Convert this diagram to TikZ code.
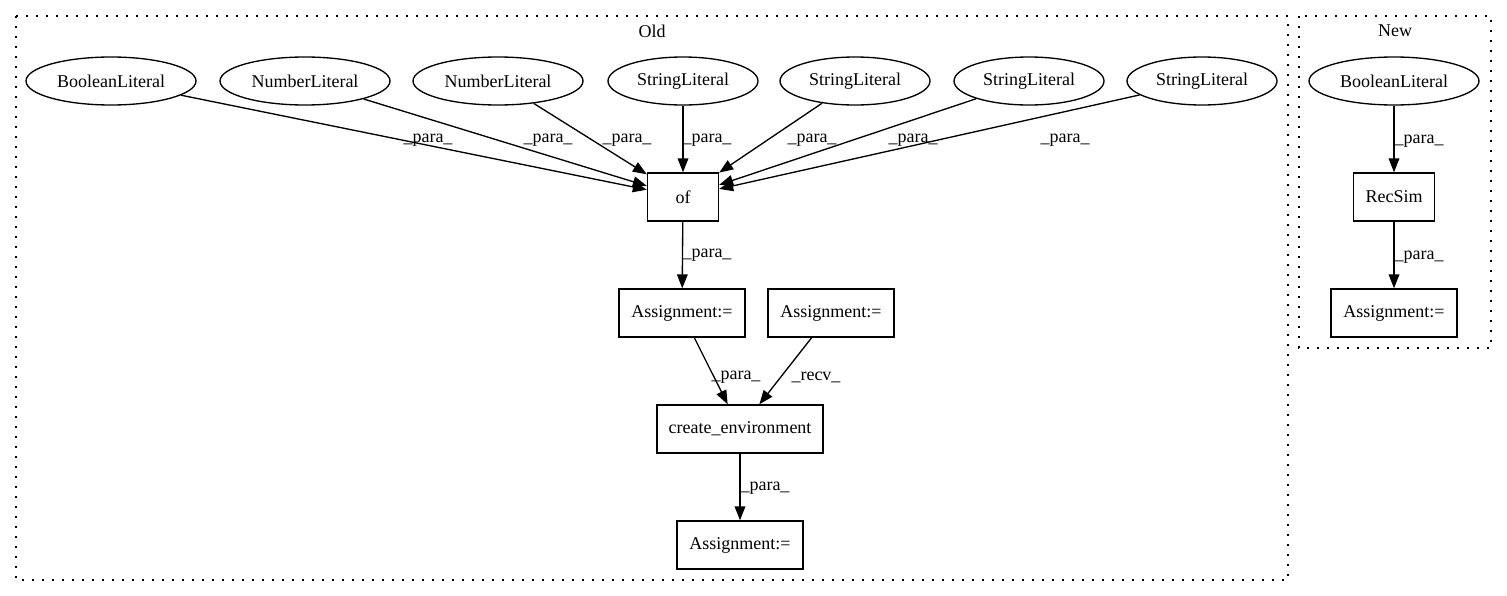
\documentclass[tikz,border=0pt]{standalone}
\usepackage{fontspec}
\setmainfont{Liberation Serif}
\usetikzlibrary{arrows.meta,shapes.geometric}
\begin{document}
\begin{tikzpicture}[x=0.75pt,y=-0.75pt,
  every node/.style={font=\fontsize{13.5pt}{16pt}\selectfont, inner sep=0pt},
  lit/.style={draw, ellipse, line width=1pt, minimum height=36pt},
  boolw/.style={minimum width=127.5pt},
  strw/.style={minimum width=112.5pt},
  boxnode/.style={draw, rectangle, line width=1pt, minimum height=36pt},
  conn/.style={line width=1pt, -{Triangle[length=10.5pt,width=8pt]}},
  lbl/.style={},
  cluster/.style={draw, line width=1pt, dash pattern=on 1.5pt off 6pt}]
\useasboundingbox (0,0) rectangle (1507,596);
% clusters
\draw[cluster] (16,16) rectangle (1288,580);
\draw[cluster] (1299,16) rectangle (1491,348);
\node (oldt) at (652,31) {Old};
\node (newt) at (1395,31) {New};
% Old nodes
\node[lit,boolw] (b1) at (111,81) {BooleanLiteral};
\node[lit,boolw] (n1) at (305,81) {NumberLiteral};
\node[lit,boolw] (n2) at (498,81) {NumberLiteral};
\node[lit,strw] (s1) at (683,81) {StringLiteral};
\node[lit,strw] (s2) at (855,81) {StringLiteral};
\node[lit,strw] (s3) at (1029,81) {StringLiteral};
\node[lit,strw] (s4) at (1202,81) {StringLiteral};
\node[boxnode,minimum width=53.25pt] (of) at (683,197) {of};
\node[boxnode,minimum width=94.5pt] (a1) at (682,313) {Assignment:=};
\node[boxnode,minimum width=94.5pt] (a2) at (831,313) {Assignment:=};
\node[boxnode,minimum width=124.5pt] (ce) at (740,429) {create\_environment};
\node[boxnode,minimum width=94.5pt] (a3) at (740,545) {Assignment:=};
% New nodes
\node[lit,boolw] (nb) at (1394,81) {BooleanLiteral};
\node[boxnode,minimum width=60.75pt] (rs) at (1394,197) {RecSim};
\node[boxnode,minimum width=94.5pt] (na) at (1394,313) {Assignment:=};
% edges
\draw[conn] (b1) -- (of);
\draw[conn] (n1) -- (of);
\draw[conn] (n2) -- (of);
\draw[conn] (s1) -- (of);
\draw[conn] (s2) -- (of);
\draw[conn] (s3) -- (of);
\draw[conn] (s4) -- (of);
\draw[conn] (of) -- (a1);
\draw[conn] (a1) -- (ce);
\draw[conn] (a2) -- (ce);
\draw[conn] (ce) -- (a3);
\draw[conn] (nb) -- (rs);
\draw[conn] (rs) -- (na);
% labels
\node[lbl] (l1) at (428,140) {\_para\_};
\node[lbl] (l2) at (548,140) {\_para\_};
\node[lbl] (l3) at (627,140) {\_para\_};
\node[lbl] (l4) at (707,140) {\_para\_};
\node[lbl] (l5) at (812,140) {\_para\_};
\node[lbl] (l6) at (913,140) {\_para\_};
\node[lbl] (l7) at (1065,140) {\_para\_};
\node[lbl] (l8) at (707,255) {\_para\_};
\node[lbl] (l9) at (736,377) {\_para\_};
\node[lbl] (l10) at (816,377) {\_recv\_};
\node[lbl] (l11) at (765,488) {\_para\_};
\node[lbl] (l12) at (1419,141) {\_para\_};
\node[lbl] (l13) at (1419,257) {\_para\_};
\end{tikzpicture}
\end{document}
